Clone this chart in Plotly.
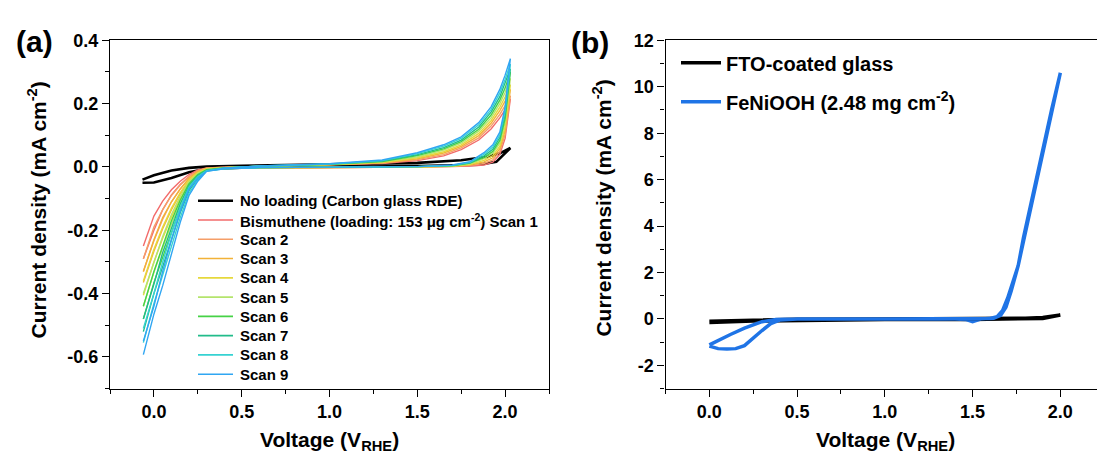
import plotly.graph_objects as go

W, H = 1097, 459

# ---------------- Panel (a) data ----------------
# shared potential path for each bismuthene scan (anodic sweep to 2.03 V, then back)
a_voltage = [-0.06, 0.0, 0.05, 0.1, 0.15, 0.2, 0.25, 0.3, 0.4, 0.6, 1.0, 1.3, 1.5, 1.65, 1.75, 1.85, 1.92, 1.97, 2.0, 2.03,
             2.0, 1.97, 1.93, 1.88, 1.8, 1.7, 1.5, 1.0, 0.6, 0.4, 0.3, 0.25, 0.2, 0.15, 0.1, 0.05, 0.0, -0.06]

scan1 = [-0.25, -0.155, -0.108, -0.072, -0.045, -0.024, -0.009, -0.003, -0.001, 0.002, 0.006, 0.011, 0.020, 0.035, 0.055, 0.085, 0.120, 0.155, 0.180, 0.215,
         0.090, 0.040, 0.015, 0.006, 0.003, 0.001, 0.0, -0.001, -0.003, -0.004, -0.007, -0.014, -0.03, -0.055, -0.088, -0.135, -0.20, -0.29]
scan2 = [-0.29, -0.19, -0.135, -0.09, -0.057, -0.03, -0.012, -0.004, -0.001, 0.002, 0.0065, 0.012, 0.023, 0.039, 0.060, 0.092, 0.129, 0.166, 0.194, 0.225,
         0.102, 0.049, 0.022, 0.011, 0.005, 0.002, 0.0, -0.001, -0.003, -0.004, -0.008, -0.018, -0.038, -0.07, -0.11, -0.165, -0.233, -0.33]
scan3 = [-0.33, -0.23, -0.16, -0.11, -0.069, -0.036, -0.015, -0.005, -0.002, 0.002, 0.007, 0.013, 0.026, 0.044, 0.065, 0.099, 0.138, 0.178, 0.208, 0.245,
         0.115, 0.058, 0.029, 0.016, 0.007, 0.002, 0.0, -0.001, -0.003, -0.004, -0.009, -0.022, -0.045, -0.085, -0.135, -0.195, -0.266, -0.365]
scan4 = [-0.36, -0.26, -0.19, -0.13, -0.081, -0.041, -0.018, -0.006, -0.002, 0.002, 0.0075, 0.015, 0.029, 0.048, 0.070, 0.106, 0.146, 0.189, 0.221, 0.26,
         0.127, 0.066, 0.036, 0.021, 0.008, 0.003, 0.0, -0.001, -0.003, -0.005, -0.010, -0.026, -0.053, -0.10, -0.158, -0.225, -0.30, -0.405]
scan5 = [-0.40, -0.30, -0.22, -0.15, -0.093, -0.047, -0.021, -0.008, -0.002, 0.002, 0.008, 0.016, 0.032, 0.053, 0.075, 0.113, 0.155, 0.200, 0.235, 0.28,
         0.140, 0.075, 0.043, 0.026, 0.010, 0.003, 0.001, -0.001, -0.002, -0.005, -0.011, -0.030, -0.06, -0.115, -0.18, -0.255, -0.333, -0.44]
scan6 = [-0.44, -0.33, -0.25, -0.17, -0.105, -0.053, -0.024, -0.009, -0.003, 0.002, 0.0085, 0.017, 0.036, 0.057, 0.080, 0.119, 0.164, 0.211, 0.249, 0.30,
         0.152, 0.084, 0.049, 0.030, 0.012, 0.004, 0.001, 0.0, -0.002, -0.005, -0.011, -0.033, -0.068, -0.13, -0.205, -0.285, -0.366, -0.48]
scan7 = [-0.48, -0.37, -0.27, -0.19, -0.117, -0.059, -0.027, -0.011, -0.003, 0.003, 0.009, 0.019, 0.039, 0.061, 0.085, 0.126, 0.173, 0.222, 0.263, 0.31,
         0.165, 0.093, 0.056, 0.035, 0.013, 0.005, 0.001, 0.0, -0.002, -0.005, -0.012, -0.037, -0.075, -0.145, -0.228, -0.315, -0.40, -0.52]
scan8 = [-0.51, -0.40, -0.30, -0.21, -0.129, -0.064, -0.031, -0.012, -0.004, 0.003, 0.0095, 0.020, 0.042, 0.066, 0.090, 0.133, 0.181, 0.234, 0.276, 0.325,
         0.177, 0.101, 0.063, 0.040, 0.015, 0.005, 0.001, 0.0, -0.002, -0.006, -0.013, -0.041, -0.083, -0.16, -0.25, -0.345, -0.432, -0.555]
scan9 = [-0.55, -0.44, -0.33, -0.23, -0.14, -0.07, -0.035, -0.014, -0.004, 0.003, 0.010, 0.022, 0.045, 0.070, 0.095, 0.140, 0.190, 0.245, 0.290, 0.342,
         0.190, 0.110, 0.070, 0.045, 0.017, 0.006, 0.001, 0.0, -0.002, -0.006, -0.014, -0.045, -0.09, -0.175, -0.275, -0.375, -0.465, -0.593]

scans = [scan1, scan2, scan3, scan4, scan5, scan6, scan7, scan8, scan9]
scan_names = ["Bismuthene (loading: 153 \u03bcg cm<sup>-2</sup>) Scan 1", "Scan 2", "Scan 3", "Scan 4",
              "Scan 5", "Scan 6", "Scan 7", "Scan 8", "Scan 9"]
scan_colors = ["#F26B6B", "#F59E68", "#F2B238", "#E6D83C", "#B4E46C", "#46D246", "#22BC8A", "#36D2D2", "#30A6F2"]

bare_name = "No loading (Carbon glass RDE)"
bare_voltage = [-0.065, 0.0, 0.1, 0.2, 0.3, 0.5, 1.0, 1.5, 1.75, 1.9, 1.97, 2.03,
                1.95, 1.85, 1.5, 1.0, 0.5, 0.3, 0.2, 0.1, 0.0, -0.065]
bare_current = [-0.04, -0.026, -0.011, -0.003, 0.001, 0.004, 0.008, 0.013, 0.021, 0.032, 0.043, 0.06,
                0.016, 0.007, 0.003, 0.0, -0.002, -0.006, -0.017, -0.035, -0.049, -0.05]

# ---------------- Panel (b) data ----------------
fto_voltage = [0.0, 0.25, 0.5, 1.0, 1.5, 1.8, 1.9, 1.95, 2.0, 1.9, 1.5, 1.0, 0.5, 0.25, 0.0]
fto_current = [-0.1, -0.04, -0.01, 0.0, 0.01, 0.03, 0.06, 0.1, 0.17, 0.02, -0.02, -0.03, -0.05, -0.09, -0.15]

feni_voltage = [0.0, 0.06, 0.12, 0.2, 0.3, 0.38, 0.5, 1.0, 1.4, 1.6, 1.64, 1.67, 1.7, 1.73, 1.76, 1.79, 1.85, 1.9, 1.95, 2.0,
                1.95, 1.9, 1.85, 1.8, 1.76, 1.72, 1.69, 1.66, 1.62, 1.55, 1.5, 1.46, 1.4, 1.0, 0.5, 0.4, 0.35, 0.3,
                0.25, 0.2, 0.15, 0.1, 0.05, 0.0]
feni_current = [-1.12, -0.88, -0.67, -0.4, -0.12, -0.02, 0.0, 0.0, 0.0, 0.02, 0.1, 0.35, 0.9, 1.6, 2.3, 3.5, 5.6, 7.3, 9.0, 10.6,
                8.9, 7.2, 5.4, 3.7, 2.3, 1.2, 0.5, 0.15, 0.03, 0.0, -0.12, -0.02, 0.0, 0.0, 0.0, -0.05, -0.2, -0.5,
                -0.85, -1.15, -1.28, -1.3, -1.28, -1.17]

# tick labels
a_xticks = [0.0, 0.5, 1.0, 1.5, 2.0]
a_xlabels = ["0.0", "0.5", "1.0", "1.5", "2.0"]
a_yticks = [-0.6, -0.4, -0.2, 0.0, 0.2, 0.4]
a_ylabels = ["-0.6", "-0.4", "-0.2", "0.0", "0.2", "0.4"]
b_yticks = [-2, 0, 2, 4, 6, 8, 10, 12]
b_ylabels = ["-2", "0", "2", "4", "6", "8", "10", "12"]

FONT = "Arial, Liberation Sans, sans-serif"

def px_x(p):
    return p / W

def px_y(p):
    return 1 - p / H

fig = go.Figure()

fig.add_trace(go.Scatter(x=bare_voltage, y=bare_current, mode="lines",
                         line=dict(color="black", width=2.6),
                         name=bare_name, xaxis="x", yaxis="y", showlegend=False))
for s, n, c in zip(scans, scan_names, scan_colors):
    fig.add_trace(go.Scatter(x=a_voltage, y=s, mode="lines", line=dict(color=c, width=1.4),
                             name=n, xaxis="x", yaxis="y", showlegend=False))

fig.add_trace(go.Scatter(x=fto_voltage, y=fto_current, mode="lines", line=dict(color="black", width=3.5),
                         name="FTO-coated glass", xaxis="x2", yaxis="y2", legend="legend2", legendgroup="g1"))
fig.add_trace(go.Scatter(x=feni_voltage, y=feni_current, mode="lines", line=dict(color="#1F74E6", width=3.5),
                         name="FeNiOOH (2.48 mg cm<sup>-2</sup>)", xaxis="x2", yaxis="y2", legend="legend2",
                         legendgroup="g2"))

y_dom = [px_y(387), px_y(31)]
tickfont = dict(family=FONT, size=18, color="black", weight="bold")
axis_common = dict(showline=True, linecolor="black", linewidth=1.3, ticks="outside", ticklen=7,
                   tickwidth=1.2, tickcolor="black", showgrid=False, zeroline=False, tickfont=tickfont)

fig.update_layout(
    width=W, height=H, margin=dict(l=0, r=0, t=0, b=0),
    paper_bgcolor="white", plot_bgcolor="white",
    xaxis=dict(domain=[px_x(110), px_x(549)], range=[-0.25, 2.25], anchor="y", mirror=True,
               tickvals=a_xticks, ticktext=a_xlabels,
               minor=dict(dtick=0.25, tick0=0, ticks="outside", ticklen=4, tickcolor="black", tickwidth=1.2),
               **axis_common),
    yaxis=dict(domain=y_dom, range=[-0.7, 0.4], anchor="x", mirror=True,
               tickvals=a_yticks, ticktext=a_ylabels,
               minor=dict(dtick=0.1, tick0=0, ticks="outside", ticklen=4, tickcolor="black", tickwidth=1.2),
               **axis_common),
    xaxis2=dict(domain=[px_x(665.5), 1.0], range=[-0.25, 2.209], anchor="y2", mirror=True,
                tickvals=a_xticks, ticktext=a_xlabels,
                minor=dict(dtick=0.25, tick0=0, ticks="outside", ticklen=4, tickcolor="black", tickwidth=1.2),
                **axis_common),
    yaxis2=dict(domain=y_dom, range=[-3, 12], anchor="x2", mirror=False,
                tickvals=b_yticks, ticktext=b_ylabels,
                minor=dict(dtick=1, tick0=0, ticks="outside", ticklen=4, tickcolor="black", tickwidth=1.2),
                **axis_common),
    legend2=dict(x=px_x(676), y=px_y(34), xanchor="left", yanchor="top", bgcolor="rgba(0,0,0,0)",
                 font=dict(family=FONT, size=20, color="black", weight="bold"), itemwidth=40,
                 tracegroupgap=10),
    showlegend=True,
)

# legend of panel (a), drawn as line samples + labels (tight row spacing as in the original)
leg_names = [bare_name] + scan_names
leg_colors = ["black"] + scan_colors
leg_widths = [2.6] + [1.6] * len(scan_colors)
row0, row_gap = 195, 19.7
for i, (n, c, w) in enumerate(zip(leg_names, leg_colors, leg_widths)):
    yy = px_y(row0 + i * row_gap)
    fig.add_shape(type="line", xref="paper", yref="paper", x0=px_x(198), x1=px_x(233), y0=yy, y1=yy,
                  line=dict(color=c, width=w))
    fig.add_annotation(xref="paper", yref="paper", x=px_x(238), y=yy, text=n, showarrow=False,
                       xanchor="left", yanchor="middle",
                       font=dict(family=FONT, size=15, color="black", weight="bold"))

title_font = dict(family=FONT, size=21, color="black", weight="bold")
annots = [
    dict(text="(a)", x=px_x(34), y=px_y(32), font=dict(family=FONT, size=30, color="black", weight="bold")),
    dict(text="(b)", x=px_x(590), y=px_y(33), font=dict(family=FONT, size=30, color="black", weight="bold")),
    dict(text="Voltage (V<sub>RHE</sub>)", x=px_x(329.5), y=px_y(441), font=title_font),
    dict(text="Voltage (V<sub>RHE</sub>)", x=px_x(885), y=px_y(441), font=title_font),
    dict(text="Current density (mA cm<sup>-2</sup>)", x=px_x(37), y=px_y(205), textangle=-90, font=title_font),
    dict(text="Current density (mA cm<sup>-2</sup>)", x=px_x(602), y=px_y(203), textangle=-90, font=title_font),
]
for a in annots:
    fig.add_annotation(xref="paper", yref="paper", showarrow=False, xanchor="center", yanchor="middle", **a)

fig.write_html("out.html")
